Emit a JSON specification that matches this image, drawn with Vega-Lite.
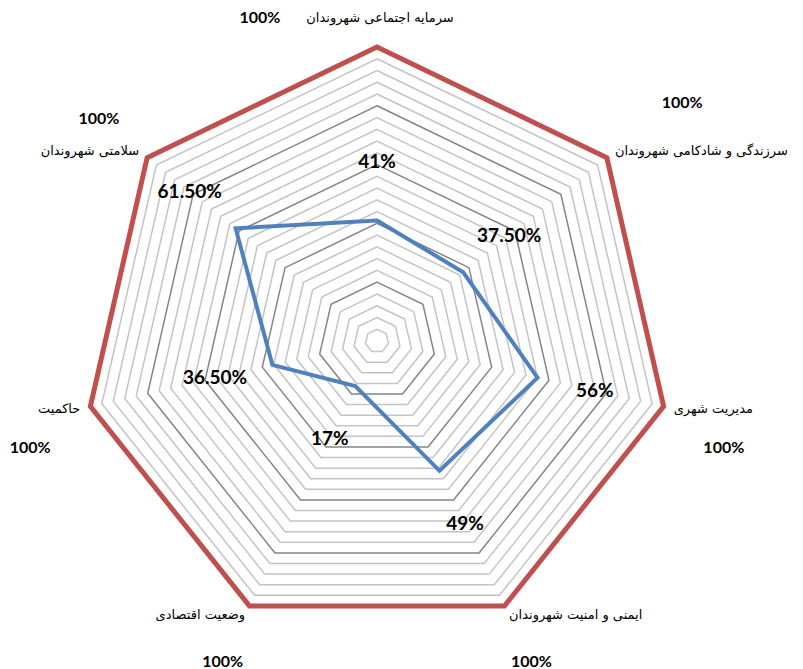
{
  "$schema": "https://vega.github.io/schema/vega-lite/v6.json",
  "width": 803,
  "height": 669,
  "autosize": "none",
  "padding": 0,
  "background": "white",
  "config": {"view": {"stroke": null}},
  "datasets": {
    "cats": [
      {"i": 0, "name": "سرمایه اجتماعی شهروندان", "value": 41, "label": "41%", "full": 100},
      {"i": 1, "name": "سرزندگی و شادکامی  شهروندان", "value": 37.5, "label": "37.50%", "full": 100},
      {"i": 2, "name": "مدیریت شهری", "value": 56, "label": "56%", "full": 100},
      {"i": 3, "name": "ایمنی و امنیت شهروندان", "value": 49, "label": "49%", "full": 100},
      {"i": 4, "name": "وضعیت اقتصادی", "value": 17, "label": "17%", "full": 100},
      {"i": 5, "name": "حاکمیت", "value": 36.5, "label": "36.50%", "full": 100},
      {"i": 6, "name": "سلامتی شهروندان", "value": 61.5, "label": "61.50%", "full": 100}
    ],
    "grid": [
      {"level": 4, "i": [0, 1, 2, 3, 4, 5, 6]},
      {"level": 8, "i": [0, 1, 2, 3, 4, 5, 6]},
      {"level": 12, "i": [0, 1, 2, 3, 4, 5, 6]},
      {"level": 16, "i": [0, 1, 2, 3, 4, 5, 6]},
      {"level": 20, "i": [0, 1, 2, 3, 4, 5, 6]},
      {"level": 24, "i": [0, 1, 2, 3, 4, 5, 6]},
      {"level": 28, "i": [0, 1, 2, 3, 4, 5, 6]},
      {"level": 32, "i": [0, 1, 2, 3, 4, 5, 6]},
      {"level": 36, "i": [0, 1, 2, 3, 4, 5, 6]},
      {"level": 40, "i": [0, 1, 2, 3, 4, 5, 6]},
      {"level": 44, "i": [0, 1, 2, 3, 4, 5, 6]},
      {"level": 48, "i": [0, 1, 2, 3, 4, 5, 6]},
      {"level": 52, "i": [0, 1, 2, 3, 4, 5, 6]},
      {"level": 56, "i": [0, 1, 2, 3, 4, 5, 6]},
      {"level": 60, "i": [0, 1, 2, 3, 4, 5, 6]},
      {"level": 64, "i": [0, 1, 2, 3, 4, 5, 6]},
      {"level": 68, "i": [0, 1, 2, 3, 4, 5, 6]},
      {"level": 72, "i": [0, 1, 2, 3, 4, 5, 6]},
      {"level": 76, "i": [0, 1, 2, 3, 4, 5, 6]},
      {"level": 80, "i": [0, 1, 2, 3, 4, 5, 6]},
      {"level": 84, "i": [0, 1, 2, 3, 4, 5, 6]},
      {"level": 88, "i": [0, 1, 2, 3, 4, 5, 6]},
      {"level": 92, "i": [0, 1, 2, 3, 4, 5, 6]},
      {"level": 96, "i": [0, 1, 2, 3, 4, 5, 6]}
    ]
  },
  "encoding": {
    "x": {"field": "x", "type": "quantitative", "scale": {"domain": [-1.28231, 1.44898], "nice": false, "zero": false}, "axis": null},
    "y": {"field": "y", "type": "quantitative", "scale": {"domain": [-1.11565, 1.15986], "nice": false, "zero": false}, "axis": null}
  },
  "layer": [
    {
      "data": {"name": "grid"},
      "transform": [
        {"flatten": ["i"]},
        {"calculate": "datum.level / 100", "as": "r"},
        {"calculate": "datum.i * 2 * PI / 7", "as": "a"},
        {"calculate": "datum.r * sin(datum.a)", "as": "x"},
        {"calculate": "datum.r * cos(datum.a)", "as": "y"}
      ],
      "mark": {"type": "line", "interpolate": "linear-closed", "strokeWidth": 1.5},
      "encoding": {
        "detail": {"field": "level", "type": "nominal"},
        "order": {"field": "i", "type": "quantitative"},
        "color": {"condition": {"test": "datum.level % 20 == 0", "value": "#858585"}, "value": "#c4c4c4"}
      }
    },
    {
      "data": {"name": "cats"},
      "transform": [
        {"calculate": "datum.full / 100", "as": "r"},
        {"calculate": "datum.i * 2 * PI / 7", "as": "a"},
        {"calculate": "datum.r * sin(datum.a)", "as": "x"},
        {"calculate": "datum.r * cos(datum.a)", "as": "y"}
      ],
      "mark": {"type": "line", "interpolate": "linear-closed", "strokeWidth": 5, "color": "#c0504d"},
      "encoding": {"order": {"field": "i", "type": "quantitative"}}
    },
    {
      "data": {"name": "cats"},
      "transform": [
        {"calculate": "datum.value / 100", "as": "r"},
        {"calculate": "datum.i * 2 * PI / 7", "as": "a"},
        {"calculate": "datum.r * sin(datum.a)", "as": "x"},
        {"calculate": "datum.r * cos(datum.a)", "as": "y"}
      ],
      "mark": {"type": "line", "interpolate": "linear-closed", "strokeWidth": 4, "color": "#4f81bd"},
      "encoding": {"order": {"field": "i", "type": "quantitative"}}
    },
    {
      "data": {"name": "cats"},
      "transform": [
        {"calculate": "(datum.value + 20) / 100", "as": "r"},
        {"calculate": "datum.i * 2 * PI / 7", "as": "a"},
        {"calculate": "datum.r * sin(datum.a)", "as": "x"},
        {"calculate": "datum.r * cos(datum.a)", "as": "y"}
      ],
      "mark": {"type": "text", "font": "Lato", "fontWeight": "bold", "fontSize": 19, "color": "#000000", "align": "center", "baseline": "middle"},
      "encoding": {"text": {"field": "label"}}
    },
    {
      "data": {"name": "cats"},
      "transform": [
        {"filter": "datum.i == 3 || datum.i == 4 || datum.i == 6"},
        {"calculate": "1.21 * datum.full / 100", "as": "r"},
        {"calculate": "datum.i * 2 * PI / 7", "as": "a"},
        {"calculate": "datum.r * sin(datum.a)", "as": "x"},
        {"calculate": "datum.r * cos(datum.a)", "as": "y"}
      ],
      "mark": {"type": "text", "font": "Lato", "fontWeight": "bold", "fontSize": 16, "color": "#000000", "align": "center", "baseline": "middle"},
      "encoding": {"text": {"value": "100%"}}
    },
    {
      "data": {"name": "cats"},
      "transform": [
        {"filter": "datum.i == 2 || datum.i == 5"},
        {"calculate": "1.21 * datum.full / 100", "as": "r"},
        {"calculate": "datum.i * 2 * PI / 7", "as": "a"},
        {"calculate": "datum.r * sin(datum.a)", "as": "x"},
        {"calculate": "datum.r * cos(datum.a)", "as": "y"}
      ],
      "mark": {"type": "text", "font": "Lato", "fontWeight": "bold", "fontSize": 16, "color": "#000000", "align": "center", "baseline": "middle", "dy": 28},
      "encoding": {"text": {"value": "100%"}}
    },
    {
      "data": {"name": "cats"},
      "transform": [
        {"filter": "datum.i == 1"},
        {"calculate": "1.21 * datum.full / 100", "as": "r"},
        {"calculate": "datum.i * 2 * PI / 7", "as": "a"},
        {"calculate": "datum.r * sin(datum.a)", "as": "x"},
        {"calculate": "datum.r * cos(datum.a)", "as": "y"}
      ],
      "mark": {"type": "text", "font": "Lato", "fontWeight": "bold", "fontSize": 16, "color": "#000000", "align": "center", "baseline": "middle", "dx": 27, "dy": -16},
      "encoding": {"text": {"value": "100%"}}
    },
    {
      "data": {"name": "cats"},
      "transform": [
        {"filter": "datum.i == 0"},
        {"calculate": "1.10 * datum.full / 100", "as": "r"},
        {"calculate": "datum.i * 2 * PI / 7", "as": "a"},
        {"calculate": "datum.r * sin(datum.a)", "as": "x"},
        {"calculate": "datum.r * cos(datum.a)", "as": "y"}
      ],
      "mark": {"type": "text", "font": "Lato", "fontWeight": "bold", "fontSize": 16, "color": "#000000", "align": "center", "baseline": "middle", "dx": -117},
      "encoding": {"text": {"value": "100%"}}
    },
    {
      "data": {"name": "cats"},
      "transform": [
        {"filter": "datum.i >= 1 && datum.i <= 3"},
        {"calculate": "1.035", "as": "r"},
        {"calculate": "datum.i * 2 * PI / 7", "as": "a"},
        {"calculate": "datum.r * sin(datum.a)", "as": "x"},
        {"calculate": "datum.r * cos(datum.a)", "as": "y"}
      ],
      "mark": {"type": "text", "font": "DejaVu Sans", "fontSize": 13, "color": "#000000", "align": "left", "baseline": "middle"},
      "encoding": {"text": {"field": "name"}}
    },
    {
      "data": {"name": "cats"},
      "transform": [
        {"filter": "datum.i >= 4"},
        {"calculate": "1.035", "as": "r"},
        {"calculate": "datum.i * 2 * PI / 7", "as": "a"},
        {"calculate": "datum.r * sin(datum.a)", "as": "x"},
        {"calculate": "datum.r * cos(datum.a)", "as": "y"}
      ],
      "mark": {"type": "text", "font": "DejaVu Sans", "fontSize": 13, "color": "#000000", "align": "right", "baseline": "middle"},
      "encoding": {"text": {"field": "name"}}
    },
    {
      "data": {"name": "cats"},
      "transform": [
        {"filter": "datum.i == 0"},
        {"calculate": "1.10", "as": "r"},
        {"calculate": "datum.i * 2 * PI / 7", "as": "a"},
        {"calculate": "datum.r * sin(datum.a)", "as": "x"},
        {"calculate": "datum.r * cos(datum.a)", "as": "y"}
      ],
      "mark": {"type": "text", "font": "DejaVu Sans", "fontSize": 13, "color": "#000000", "align": "center", "baseline": "middle", "dx": 3},
      "encoding": {"text": {"field": "name"}}
    }
  ]
}
